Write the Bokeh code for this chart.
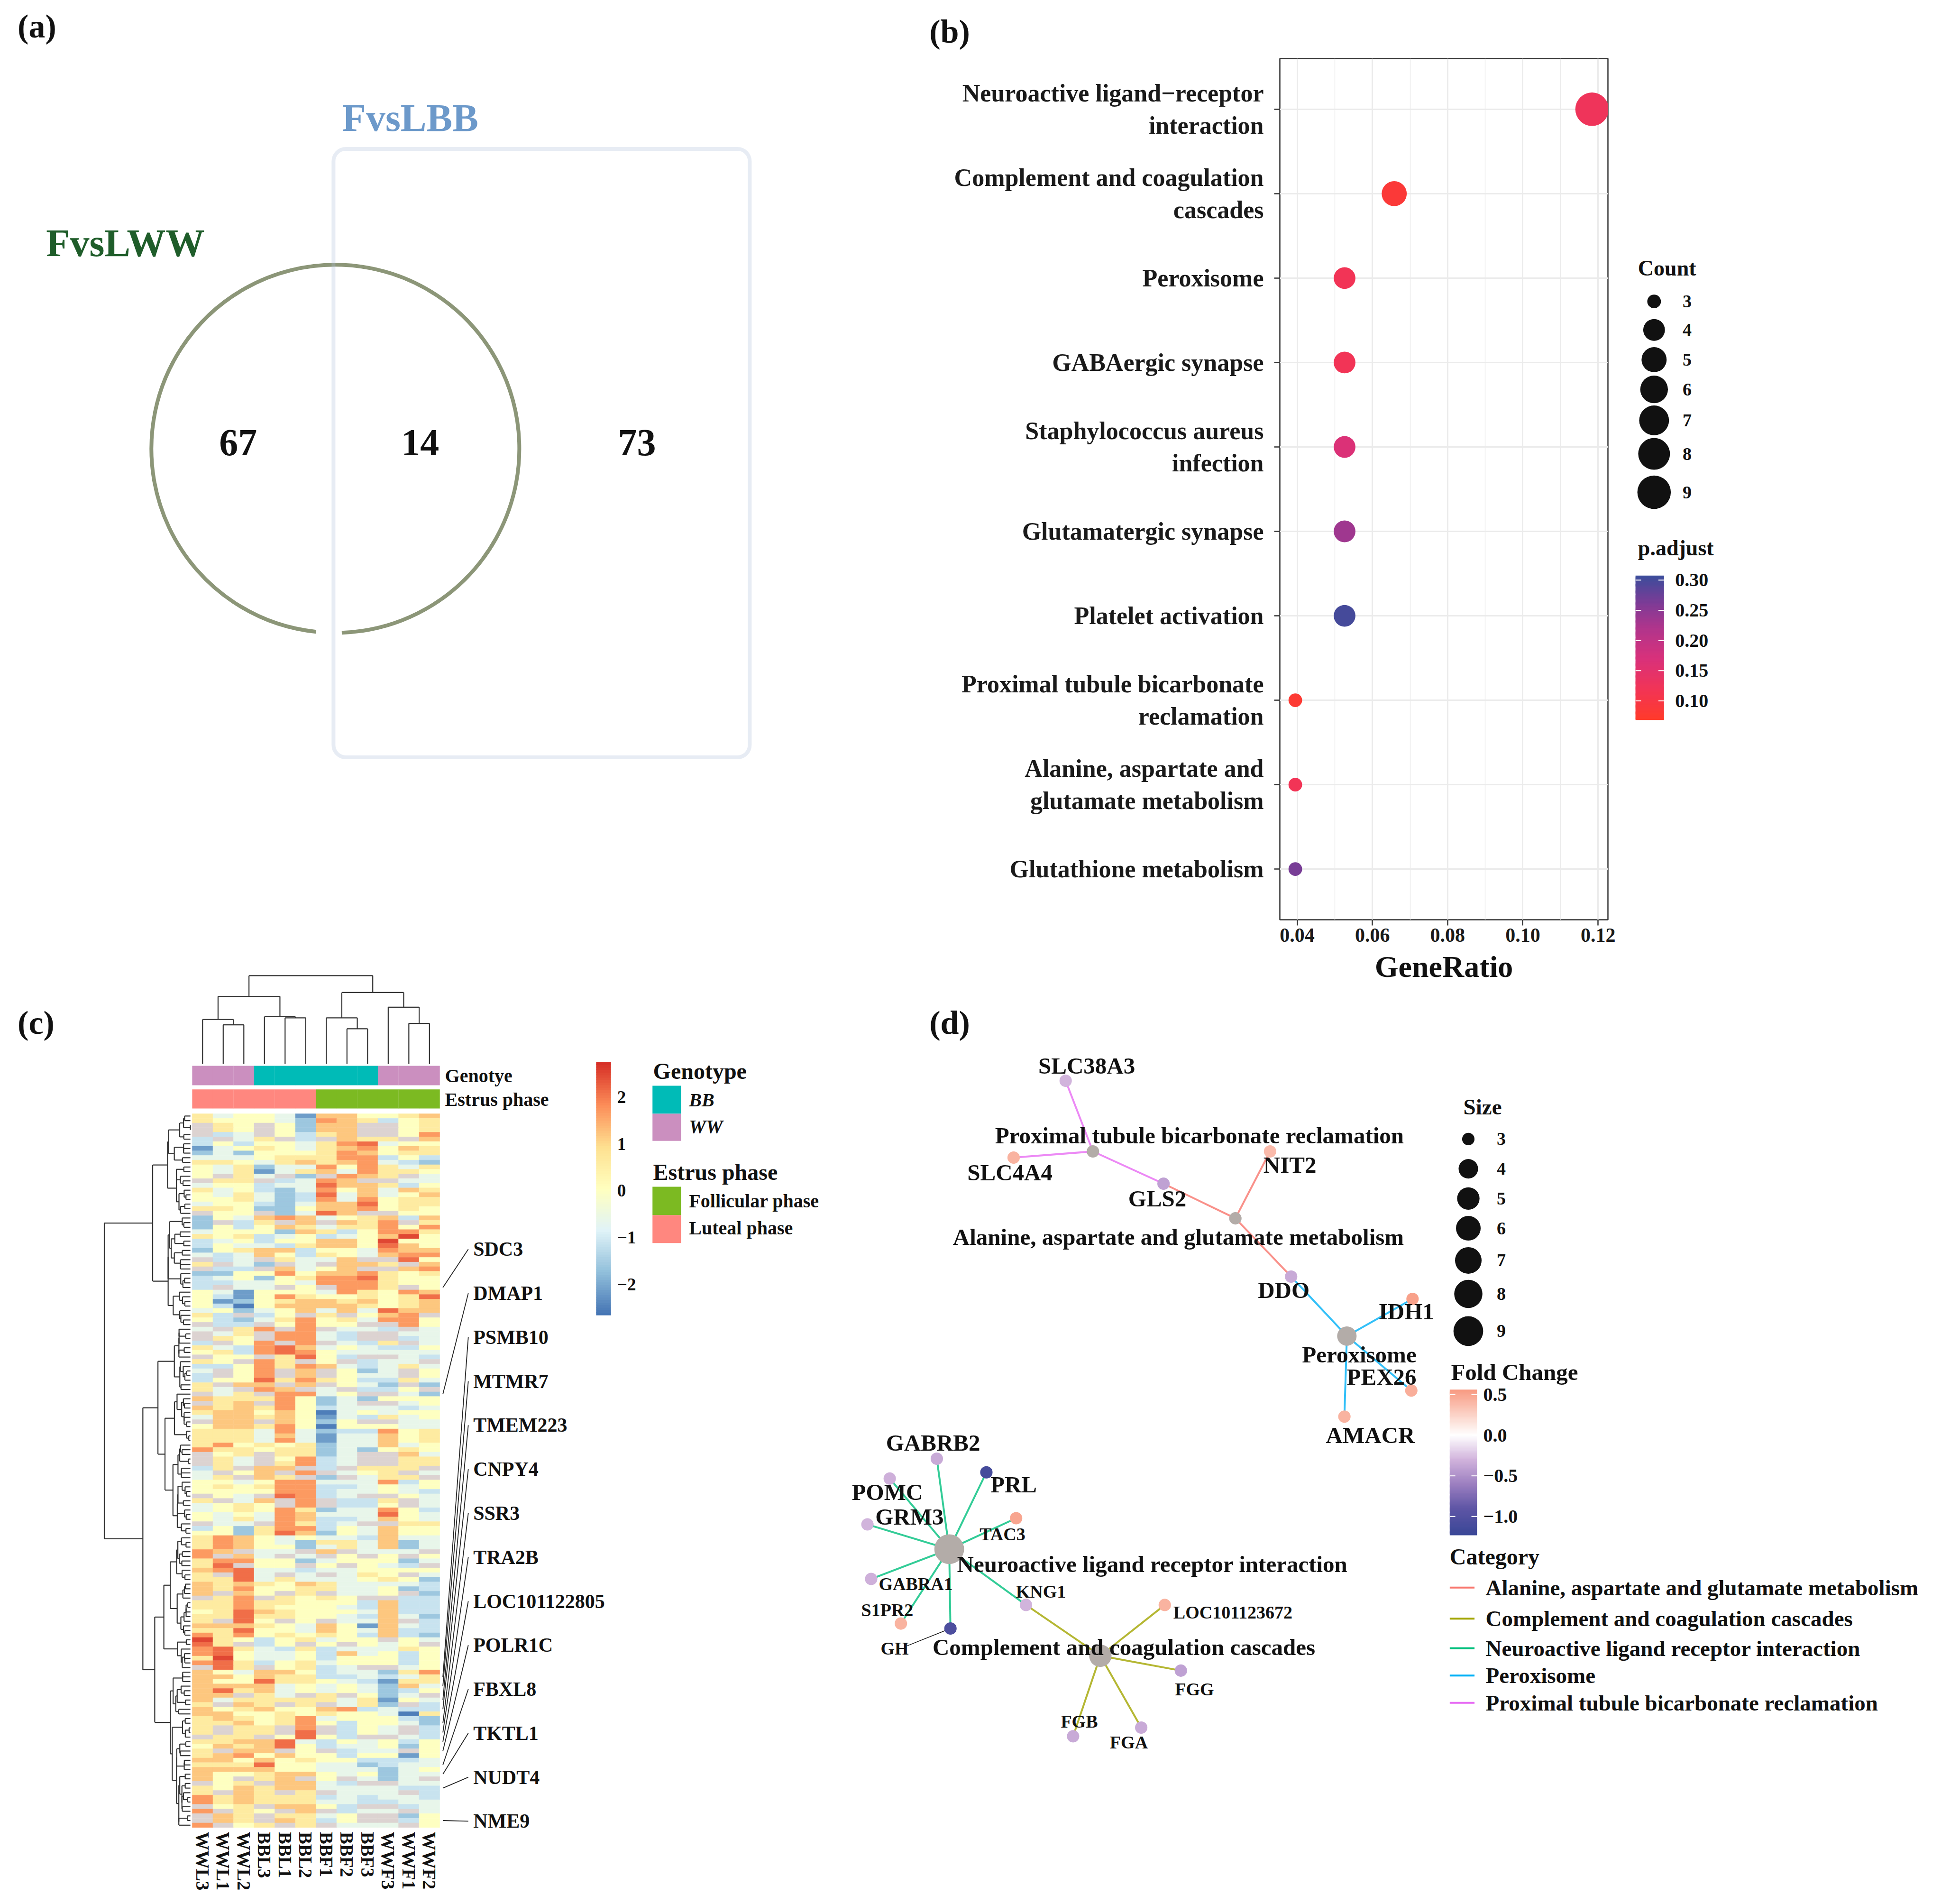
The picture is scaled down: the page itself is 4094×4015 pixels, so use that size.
import numpy as np
from bokeh.plotting import figure
from bokeh.models import (Range1d, FactorRange, FixedTicker, PrintfTickFormatter,
                          LinearColorMapper, BoxAnnotation, ColumnDataSource)
from bokeh.layouts import row, column
from bokeh.transform import transform
from bokeh.core.properties import value
from bokeh.embed import file_html
from bokeh.resources import INLINE

SERIF = "Liberation Serif"
K = 2.613  # canvas pixels per layout unit

# ======================= DATA =======================
# (a) Venn
venn_names = ["FvsLWW", "FvsLBB"]
venn_counts = [67, 14, 73]          # only FvsLWW, shared, only FvsLBB

# (b) KEGG dot plot (top to bottom)
kegg_terms = [
    "Neuroactive ligand\u2212receptor\ninteraction",
    "Complement and coagulation\ncascades",
    "Peroxisome",
    "GABAergic synapse",
    "Staphylococcus aureus\ninfection",
    "Glutamatergic synapse",
    "Platelet activation",
    "Proximal tubule bicarbonate\nreclamation",
    "Alanine, aspartate and\nglutamate metabolism",
    "Glutathione metabolism",
]
kegg_gene_ratio = [0.1184, 0.0658, 0.0526, 0.0526, 0.0526, 0.0526, 0.0526, 0.0395, 0.0395, 0.0395]
kegg_count = [9, 5, 4, 4, 4, 4, 4, 3, 3, 3]
kegg_padj = [0.125, 0.085, 0.12, 0.12, 0.165, 0.235, 0.300, 0.08, 0.12, 0.265]
ratio_ticks = [0.04, 0.06, 0.08, 0.10, 0.12]
count_legend = [3, 4, 5, 6, 7, 8, 9]
padj_ticks = [0.10, 0.15, 0.20, 0.25, 0.30]

# (c) heatmap (z-scores, coded), rows in dendrogram order
samples = ["WWL3", "WWL1", "WWL2", "BBL3", "BBL1", "BBL2",
           "BBF1", "BBF2", "BBF3", "WWF3", "WWF1", "WWF2"]
heat_code = {"a": -2.5, "b": -2.1, "c": -1.6, "d": -1.1, "e": -0.6, "f": 0.0,
             "g": 0.6, "h": 1.2, "i": 1.7, "j": 2.1, "k": 2.5, "x": np.nan}
heat_rows = [
    "geffebhhffgh", "gfffecihgdfg", "xgfxfchhxxfg", "xgfxfchhxxfg", "xdexfdghxxfi",
    "dxegxdxhggxh", "dfdffegijeff", "befgfeghifhg", "cecfffgihfgg", "eeefgggiidfd",
    "ggfeghghiedc", "fegceeifigeg", "fegbegheiggf", "fxgexcxihgxe", "xggxdeihxxee",
    "effdeejhhgdf", "gefdceifhehg", "fegecdjehefh", "ffgecdieifgg", "effdcehhjfgg",
    "ggfccfhhifgf", "xffxcejhxxff", "cfehihefghdh", "cxdgxhxhgixg", "cfdfhgeggifi",
    "efffchgdfiig", "gfgdefdefhkf", "defdffhhfkff", "dfeedghhfjhf", "cfghhdffeihh",
    "edehfdgfehii", "xdexgeehxxjf", "gxecxexhhgxh", "xddxhefhxxhi", "ccffifhhigfg",
    "defcfgiijgff", "ddeefeiiigff", "dxeexfxiigxf", "febfffeigfih", "fdbfigffgfgj",
    "fbcfghhghfgh", "fdafhhhhgfgh", "efcefhehejhh", "gdxdfxgxfhix", "fdcegifgeiif",
    "xddxfiffxxif", "exgixixeedxe", "xegxiiedxxee", "xgfxiiedxxde", "dxfixixedgxe",
    "gedijhefeddf", "fgdijifeeeee", "xffxgjfdxxed", "gfxigxfxdeex", "ddfigihedege",
    "exfixhxfcexf", "dxfixhxfeexf", "dffjgigfddge", "gxhhxhxfecxc", "gexihxexddfx",
    "xegxiiefxxec", "hgggifcecfff", "xghxifcexxef", "hghgifdeeede", "ghhfhfaefeff",
    "ehhghfbedgef", "xhhxhfcfxxee", "fhhgifafffee", "gggeiecddifg", "gggehebeehfg",
    "gggeiebeehfg", "gifgfgceehef", "iggfggcecfgf", "xfgxggcexxhe", "xgexfidexxgg",
    "xgexgidexxgg", "dgxhhxdxgggx", "exfhxixefgxe", "egxhgxcxeggx", "ffefiieeeidf",
    "fgfgiiddefef", "ffffiideefed", "xfexjidexxfe", "gxehxixddgxe", "efgfxixddfxe",
    "efgfigceeifd", "fefeiheeejfe", "fegeihddehfe", "xeexigdexxgg", "dfcgiidfehff",
    "ffcgjhcfehff", "gihfefeedhee", "gihfecggehce", "gihffcegehce", "ihxeexhxeeex",
    "ixhexexfxfxf", "giiffcefffce", "gjxffxfxfedx", "hijeedeeffff", "gxjexexegfxe",
    "ggjegeeefgfc", "hghgfhgeeeed", "hgiffggeefcd", "hxhfxgxeefxc", "xgixgfgfxxdd",
    "ggiggfffdhdd", "ggigfffedhdd", "fgjhgfffehdd", "ggjggffedhec", "gxjfxfxeehxd",
    "hhhgfehfbhed", "ggjffehfehdd", "igifgfgfdhdc", "kgfdfgeffxfe", "jgxdfxfxfefx",
    "ijgedgdeeegf", "ijfeefdhefdf", "gkfeefdfffdf", "ijgdfgefffdf", "xjgxfgdexxef",
    "hfehhfdeecgi", "hhfhggddedeg", "hffjggfedbgg", "hhhhefefeche", "hjghefefecdf",
    "hhxgexgxfcex", "hegggggegbfe", "gxhgxgxegcxd", "hfghffhidedd", "hhffgfgffeag",
    "ghgfgiefffdc", "gghfgifdffec", "gxggxixdfexd", "gxggxjxdfexd", "xggxfjfdxxed",
    "gghhjedfefdf", "fhghjfdeefcf", "gxhhxfxdeexf", "ghifhffdffbf", "hhfhfgffddde",
    "gggjffeecdee", "hhhhffeeecef", "hffghhfefcee", "hfxghxfxecex", "xfgxhhedxxee",
    "gfhghheeeedd", "gxhgxgxeeexd", "ighgggdedeed", "ighgggeeddee", "xfgxhhfdxxde",
    "ixgfxhxdeexe", "xhgxggefxxcf", "xhgxhgdfxxdf", "ixfgxgxeeexf",
]
marked_genes = ["SDC3", "DMAP1", "PSMB10", "MTMR7", "TMEM223", "CNPY4", "SSR3", "TRA2B",
                "LOC101122805", "POLR1C", "FBXL8", "TKTL1", "NUDT4", "NME9"]
marked_rows = [37, 60, 121, 123, 126, 128, 131, 133, 135, 137, 140, 142, 145, 152]
# column tree: (left, right, height); new clusters numbered from 12
col_merges = [(1, 2, 248), (0, 12, 282), (4, 5, 292), (3, 14, 300), (13, 15, 428),
              (7, 8, 223), (6, 17, 292), (10, 11, 257), (9, 19, 360), (18, 20, 453),
              (16, 21, 560)]
heat_ticks = [2, 1, 0, -1, -2]

# (d) gene-concept network
net_categories = ["Alanine, aspartate and glutamate metabolism",
                  "Complement and coagulation cascades",
                  "Neuroactive ligand receptor interaction",
                  "Peroxisome",
                  "Proximal tubule bicarbonate reclamation"]
net_cat_count = [3, 5, 9, 4, 3]
net_members = {
    "Alanine, aspartate and glutamate metabolism": ["GLS2", "NIT2", "DDO"],
    "Complement and coagulation cascades": ["KNG1", "LOC101123672", "FGG", "FGB", "FGA"],
    "Neuroactive ligand receptor interaction": ["GABRB2", "PRL", "POMC", "GRM3", "TAC3",
                                                "GABRA1", "S1PR2", "GH", "KNG1"],
    "Peroxisome": ["DDO", "IDH1", "PEX26", "AMACR"],
    "Proximal tubule bicarbonate reclamation": ["SLC38A3", "SLC4A4", "GLS2"],
}
net_genes = ["SLC38A3", "SLC4A4", "GLS2", "NIT2", "DDO", "IDH1", "PEX26", "AMACR",
             "GABRB2", "PRL", "POMC", "GRM3", "TAC3", "GABRA1", "S1PR2", "GH", "KNG1",
             "LOC101123672", "FGG", "FGB", "FGA"]
net_fc = [-0.30, 0.42, -0.40, 0.38, -0.35, 0.52, 0.45, 0.42,
          -0.35, -1.12, -0.32, -0.30, 0.50, -0.32, 0.42, -1.05, -0.30,
          0.42, -0.40, -0.35, -0.35]
fc_ticks = [0.5, 0.0, -0.5, -1.0]
size_legend = [3, 4, 5, 6, 7, 8, 9]

# ======================= LAYOUT (layout units) =======================
venn_circle = (270.5, 362.0, 148.5)
venn_box = (269, 605, 120, 611)
venn_num_xy = [(192, 357), (339, 357), (514, 357)]
venn_name_xy = [(101, 196), (331, 95)]
venn_name_colors = ["#1F5D2A", "#6C99CA"]

HX0, HX1, HY0, HY1 = 155.0, 354.8, 898.6, 1474.6
DX0, DX1 = 84.0, 153.5
CY0, CY1 = 787.2, 858.4

node_xy = {
    "Proximal tubule bicarbonate reclamation": (882, 929),
    "Alanine, aspartate and glutamate metabolism": (997, 983),
    "Peroxisome": (1087, 1078),
    "Neuroactive ligand receptor interaction": (766, 1250),
    "Complement and coagulation cascades": (888, 1336),
    "SLC38A3": (860, 872), "SLC4A4": (818, 934), "GLS2": (939, 955), "NIT2": (1025, 929),
    "DDO": (1042, 1030), "IDH1": (1140, 1048), "PEX26": (1139, 1122), "AMACR": (1085, 1143),
    "GABRB2": (756, 1177), "PRL": (796, 1188), "POMC": (718, 1193), "GRM3": (700, 1230),
    "TAC3": (820, 1225), "GABRA1": (703, 1274), "S1PR2": (727, 1310), "GH": (767, 1314),
    "KNG1": (828, 1295), "LOC101123672": (940, 1295), "FGG": (953, 1348), "FGB": (866, 1401),
    "FGA": (921, 1394),
}
label_xy = {
    "Proximal tubule bicarbonate reclamation": (968, 916, 49),
    "Alanine, aspartate and glutamate metabolism": (951, 998, 49),
    "Peroxisome": (1097, 1093, 49),
    "Neuroactive ligand receptor interaction": (930, 1262, 49),
    "Complement and coagulation cascades": (907, 1329, 49),
    "SLC38A3": (877, 860, 49), "SLC4A4": (815, 946, 49), "GLS2": (934, 967, 49),
    "NIT2": (1041, 940, 49), "DDO": (1036, 1041, 49), "IDH1": (1135, 1058, 49),
    "PEX26": (1115, 1111, 49), "AMACR": (1106, 1158, 49),
    "GABRB2": (753, 1164, 49), "PRL": (818, 1198, 49), "POMC": (716, 1204, 49),
    "GRM3": (734, 1224, 49), "TAC3": (809, 1238, 38), "GABRA1": (739, 1278, 38),
    "S1PR2": (716, 1299, 38), "GH": (722, 1330, 38), "KNG1": (840, 1284, 38),
    "LOC101123672": (995, 1301, 38), "FGG": (964, 1363, 38), "FGB": (871, 1389, 38),
    "FGA": (911, 1406, 38),
}
cat_colors = ["#F8766D", "#A3A500", "#00BF7D", "#00B0F6", "#E76BF3"]


# ======================= helpers =======================
def ramp(colors, n, pos=None):
    rgb = np.array([[int(c[i:i + 2], 16) for i in (1, 3, 5)] for c in colors], float)
    pos = np.linspace(0, 1, len(colors)) if pos is None else np.asarray(pos, float)
    t = np.linspace(0, 1, n)
    out = np.stack([np.interp(t, pos, rgb[:, k]) for k in range(3)], axis=1)
    return ["#%02x%02x%02x" % tuple(int(round(v)) for v in r) for r in out]


def canvas(w, h, x0, x1, y0, y1, top=0, bottom=0):
    p = figure(width=w, height=h, x_range=Range1d(x0, x1), y_range=Range1d(y0, y1),
               output_backend="svg", toolbar_location=None, min_border=0,
               min_border_top=top, min_border_bottom=bottom,
               x_axis_location=None, y_axis_location=None)
    p.grid.visible = False
    p.outline_line_color = None
    p.background_fill_color = "white"
    p.border_fill_color = "white"
    return p


def put_text(p, xs, ys, texts, size, align="left", baseline="middle", color="#111111",
             style="bold", angle=0.0):
    p.text(x=list(xs), y=list(ys), text=list(texts), text_font=value(SERIF),
           text_font_size=value(f"{size}px"), text_font_style=value(style),
           text_align=value(align), text_baseline=value(baseline),
           text_color=color, angle=angle)


def dot_size(c):
    return K * (11 + 16 * np.sqrt((c - 3) / 6.0))


def node_size(c):
    return K * (10 + 14 * np.sqrt((c - 3) / 6.0))


# ======================= (a) Venn =======================
pa = canvas(1780, 1829, 0, 681.2, 0, 700)
cx, cy, cr = venn_circle
pa.arc(x=[cx], y=[700 - cy], radius=cr, start_angle=np.deg2rad(272), end_angle=np.deg2rad(264),
       direction="anticlock", line_color="#8C9678", line_width=8)
bl, br, bt, bb = venn_box
pa.add_layout(BoxAnnotation(left=bl, right=br, top=700 - bt, bottom=700 - bb, fill_color=None,
                            line_color="#AEC0DC", line_width=8, border_radius=26))
put_text(pa, [x for x, _ in venn_num_xy], [700 - y for _, y in venn_num_xy],
         [str(v) for v in venn_counts], 80, align="center")
for (x, y), name, col in zip(venn_name_xy, venn_names, venn_name_colors):
    put_text(pa, [x], [700 - y], [name], 82, align="center", color=col)
put_text(pa, [14], [700 - 21], ["(a)"], 70)

# ======================= (b) dot plot =======================
padj_lo, padj_hi = 0.07, 0.306
padj_palette = ramp(["#FF3B2B", "#F23456", "#D9317A", "#B0358C", "#7E3B96", "#3D4C9B"], 256,
                    pos=[0, 0.21, 0.42, 0.64, 0.81, 1.0])
padj_mapper = LinearColorMapper(palette=padj_palette, low=padj_lo, high=padj_hi)

B_TOP, B_BOT = 123, 164
pb = figure(width=1631, height=2103, x_range=Range1d(0.03539, 0.12263),
            y_range=FactorRange(factors=kegg_terms[::-1], range_padding=0.1,
                                range_padding_units="absolute"),
            output_backend="svg", toolbar_location=None,
            min_border_left=919, min_border_right=20, min_border_top=B_TOP, min_border_bottom=B_BOT)
pb.background_fill_color = "white"
pb.outline_line_color = "#333333"
pb.outline_line_width = 2.5
pb.title.text = "(b)"
pb.title.align = "left"
pb.title.offset = -(919 - (750 - 681.2) * K)
pb.title.text_font = SERIF
pb.title.text_font_style = "bold"
pb.title.text_font_size = "70px"
pb.title.text_color = "#111111"
pb.title.standoff = 38
pb.xaxis.ticker = FixedTicker(ticks=ratio_ticks, minor_ticks=[0.05, 0.07, 0.09, 0.11])
pb.xaxis.formatter = PrintfTickFormatter(format="%.2f")
for ax in (pb.xaxis, pb.yaxis):
    ax.axis_line_color = None
    ax.major_tick_line_color = "#333333"
    ax.major_tick_line_width = 2.5
    ax.major_tick_in = 0
    ax.major_tick_out = 12
    ax.minor_tick_line_color = None
    ax.major_label_text_font = SERIF
    ax.major_label_text_font_style = "bold"
    ax.major_label_text_color = "#1A1A1A"
pb.xaxis.major_label_text_font_size = "42px"
pb.yaxis.major_label_text_font_size = "52px"
pb.yaxis.major_label_standoff = 22
pb.xaxis.major_label_standoff = 6
pb.xaxis.axis_label = "GeneRatio"
pb.xaxis.axis_label_text_font = SERIF
pb.xaxis.axis_label_text_font_style = "bold"
pb.xaxis.axis_label_text_font_size = "64px"
pb.xaxis.axis_label_text_color = "#111111"
pb.xaxis.axis_label_standoff = 14
pb.xgrid.grid_line_color = "#EBEBEB"
pb.xgrid.grid_line_width = 3
pb.xgrid.minor_grid_line_color = "#EBEBEB"
pb.xgrid.minor_grid_line_width = 1.5
pb.ygrid.grid_line_color = "#EBEBEB"
pb.ygrid.grid_line_width = 3
src_b = ColumnDataSource(dict(term=kegg_terms, ratio=kegg_gene_ratio, padj=kegg_padj,
                              size=[dot_size(c) for c in kegg_count]))
pb.scatter(x="ratio", y="term", size="size", source=src_b, marker="circle",
           fill_color=transform("padj", padj_mapper), line_color=None)

# legends of (b): same top/bottom borders as the dot plot (frames are aligned in a row)
pbl = canvas(667, 2103, 1305.4, 1560.7, 742.0, 47.0, top=B_TOP, bottom=B_BOT)
put_text(pbl, [1322], [216], ["Count"], 46)
cnt_y = [243, 266, 290, 314, 339, 366, 397]
pbl.scatter(x=[1335] * len(count_legend), y=cnt_y, size=[dot_size(c) for c in count_legend],
            marker="circle", fill_color="#111111", line_color=None)
put_text(pbl, [1358] * len(count_legend), cnt_y, [str(c) for c in count_legend], 38)
put_text(pbl, [1322], [442], ["p.adjust"], 46)
cb_top, cb_bot = 465.0, 580.0
vals = np.linspace(padj_lo, padj_hi, 120)
step = (cb_bot - cb_top) / len(vals)
ys = cb_bot - (vals - padj_lo) / (padj_hi - padj_lo) * (cb_bot - cb_top)
pbl.quad(left=1320, right=1343, top=list(ys - step / 2 - 0.3), bottom=list(ys + step / 2 + 0.3),
         fill_color=[padj_palette[int(i)] for i in np.linspace(0, 255, len(vals))], line_color=None)
ty = [cb_bot - (v - padj_lo) / (padj_hi - padj_lo) * (cb_bot - cb_top) for v in padj_ticks]
pbl.segment(x0=[1320] * 5, y0=ty, x1=[1324.5] * 5, y1=ty, line_color="white", line_width=2)
pbl.segment(x0=[1338.5] * 5, y0=ty, x1=[1343] * 5, y1=ty, line_color="white", line_width=2)
put_text(pbl, [1352] * 5, ty, ["%.2f" % v for v in padj_ticks], 40)

# ======================= (c) heatmap =======================
pc = canvas(1780, 2170, 0, 681.2, 1530.4, 700)
M = np.array([[heat_code[ch] for ch in (r + "ffffffffffff")[:12]] for r in heat_rows], dtype=float)
nrow, ncol = M.shape
CW = (HX1 - HX0) / ncol
RH = (HY1 - HY0) / nrow
heat_palette = ramp(["#4575B4", "#91BFDB", "#E0F3F8", "#FFFFBF", "#FEE090", "#FC8D59", "#D73027"], 100)
heat_lo, heat_hi = -2.63, 2.72
heat_mapper = LinearColorMapper(palette=heat_palette, low=heat_lo, high=heat_hi, nan_color="#DCD3D1")
rr, cc = np.meshgrid(np.arange(nrow), np.arange(ncol), indexing="ij")
src_c = ColumnDataSource(dict(x=HX0 + (cc.ravel() + 0.5) * CW, y=HY0 + (rr.ravel() + 0.5) * RH,
                              v=M.ravel()))
pc.rect(x="x", y="y", width=CW, height=RH, source=src_c,
        fill_color=transform("v", heat_mapper), line_color=transform("v", heat_mapper),
        line_width=0.5)

# row dendrogram: order-preserving Ward-type agglomeration of the rows
X = np.nan_to_num(M, nan=0.0)
clusters = [dict(s=X[i].copy(), n=1, h=0.0, y=i + 0.5) for i in range(nrow)]
rsegs = []
while len(clusters) > 1:
    best = None
    for i in range(len(clusters) - 1):
        a, b = clusters[i], clusters[i + 1]
        d = np.sqrt(2.0 * a["n"] * b["n"] / (a["n"] + b["n"])) * np.linalg.norm(a["s"] / a["n"] - b["s"] / b["n"])
        if best is None or d < best[0]:
            best = (d, i)
    d, i = best
    a, b = clusters[i], clusters[i + 1]
    h = max(d, a["h"], b["h"])
    rsegs += [(a["h"], a["y"], h, a["y"]), (b["h"], b["y"], h, b["y"]), (h, a["y"], h, b["y"])]
    clusters[i:i + 2] = [dict(s=a["s"] + b["s"], n=a["n"] + b["n"], h=h, y=(a["y"] + b["y"]) / 2)]
rs = np.array(rsegs)
hmax = rs[:, [0, 2]].max()
pc.segment(x0=DX1 - rs[:, 0] / hmax * (DX1 - DX0), y0=HY0 + rs[:, 1] * RH,
           x1=DX1 - rs[:, 2] / hmax * (DX1 - DX0), y1=HY0 + rs[:, 3] * RH,
           line_color="#333333", line_width=2.2)

# column dendrogram
cpos = {i: HX0 + (i + 0.5) * CW for i in range(ncol)}
chgt = {i: 0.0 for i in range(ncol)}
csegs = []
for k, (a, b, h) in enumerate(col_merges):
    csegs += [(cpos[a], chgt[a], cpos[a], h), (cpos[b], chgt[b], cpos[b], h), (cpos[a], h, cpos[b], h)]
    cpos[ncol + k] = (cpos[a] + cpos[b]) / 2
    chgt[ncol + k] = h
cs = np.array(csegs)
chmax = max(m[2] for m in col_merges)
pc.segment(x0=cs[:, 0], y0=CY1 - cs[:, 1] / chmax * (CY1 - CY0), x1=cs[:, 2],
           y1=CY1 - cs[:, 3] / chmax * (CY1 - CY0), line_color="#333333", line_width=2.2)

# annotation bars
geno_col = {"BB": "#00BBB7", "WW": "#CB8FBF"}
phase_col = {"F": "#7CBA22", "L": "#FF877F"}
xs = [HX0 + (i + 0.5) * CW for i in range(ncol)]
pc.rect(x=xs, y=[867.8] * ncol, width=CW + 0.1, height=15.6,
        fill_color=[geno_col[s[:2]] for s in samples], line_color=None)
pc.rect(x=xs, y=[886.7] * ncol, width=CW + 0.1, height=15.4,
        fill_color=[phase_col[s[2]] for s in samples], line_color=None)
put_text(pc, [359, 359], [868, 887], ["Genotye", "Estrus phase"], 40)
put_text(pc, xs, [HY1 + 3.5] * ncol, samples, 39, angle=-np.pi / 2)

# marked genes
lab_y = [1008 + 35.5 * i for i in range(len(marked_genes))]
row_y = [HY0 + (r + 0.5) * RH for r in marked_rows]
pc.segment(x0=[HX1 + 2.5] * len(row_y), y0=row_y, x1=[HX1 + 23] * len(row_y), y1=lab_y,
           line_color="#222222", line_width=1.8)
put_text(pc, [HX1 + 27] * len(lab_y), lab_y, marked_genes, 42)

# heat colour bar + legends
hb_top, hb_bot = 858.0, 1060.0
hv = np.linspace(heat_lo, heat_hi, 100)
hstep = (hb_bot - hb_top) / len(hv)
hy = hb_bot - (hv - heat_lo) / (heat_hi - heat_lo) * (hb_bot - hb_top)
pc.quad(left=481, right=493, top=list(hy - hstep / 2 - 0.3), bottom=list(hy + hstep / 2 + 0.3),
        fill_color=heat_palette, line_color=None)
put_text(pc, [498] * 5, [hb_bot - (v - heat_lo) / (heat_hi - heat_lo) * (hb_bot - hb_top) for v in heat_ticks],
         [str(v).replace("-", "\u2212") for v in heat_ticks], 37)
put_text(pc, [527], [864], ["Genotype"], 48)
pc.quad(left=[526.5, 526.5], right=[549.5, 549.5], top=[876, 898.6], bottom=[898.6, 920.5],
        fill_color=[geno_col["BB"], geno_col["WW"]], line_color=None)
put_text(pc, [556, 556], [887.5, 909], ["BB", "WW"], 40, style="bold italic")
put_text(pc, [527], [945.7], ["Estrus phase"], 48)
pc.quad(left=[526.5, 526.5], right=[549.5, 549.5], top=[957.5, 980.5], bottom=[980.5, 1003],
        fill_color=[phase_col["F"], phase_col["L"]], line_color=None)
put_text(pc, [556, 556], [969, 991], ["Follicular phase", "Luteal phase"], 40)
put_text(pc, [14], [825], ["(c)"], 70)

# ======================= (d) network =======================
pdn = canvas(1264, 1896, 681.2, 681.2 + 1264 / K, 804.8 + 1896 / K, 804.8)
fc_lo, fc_hi = -1.22, 0.55
fc_palette = ramp(["#3A4797", "#5E55A5", "#9C7FC0", "#D1B3DC", "#FFFFFF", "#FBD3C8", "#F89C84"], 256,
                  pos=[0, 0.18, 0.35, 0.52, 0.69, 0.83, 1.0])
fc_mapper = LinearColorMapper(palette=fc_palette, low=fc_lo, high=fc_hi)
for cat, col in zip(net_categories, cat_colors):
    cxn, cyn = node_xy[cat]
    gs = net_members[cat]
    pdn.segment(x0=[cxn] * len(gs), y0=[cyn] * len(gs), x1=[node_xy[g][0] for g in gs],
                y1=[node_xy[g][1] for g in gs], line_color=col, line_alpha=0.8, line_width=4)
# ggrepel leader segments
pdn.segment(x0=[label_xy["GH"][0] + 10, node_xy["Neuroactive ligand receptor interaction"][0]],
            y0=[label_xy["GH"][1] - 2, node_xy["Neuroactive ligand receptor interaction"][1]],
            x1=[node_xy["GH"][0], 777], y1=[node_xy["GH"][1], 1258],
            line_color="#111111", line_width=1.6)
pdn.scatter(x=[node_xy[c][0] for c in net_categories], y=[node_xy[c][1] for c in net_categories],
            size=[node_size(n) for n in net_cat_count], marker="circle",
            fill_color="#B3ACA8", line_color=None)
src_d = ColumnDataSource(dict(x=[node_xy[g][0] for g in net_genes], y=[node_xy[g][1] for g in net_genes],
                              fc=net_fc))
pdn.scatter(x="x", y="y", size=K * 10, source=src_d, marker="circle",
            fill_color=transform("fc", fc_mapper), line_color=None)
for name, (lx, ly, fs) in label_xy.items():
    put_text(pdn, [lx], [ly], [name], fs, align="center")
put_text(pdn, [750], [825], ["(d)"], 70)

# legends of (d)
pdl = canvas(1034, 1896, 1164.9, 1164.9 + 1034 / K, 1530.4, 804.8)
put_text(pdl, [1181], [893], ["Size"], 47)
sz_y = [919, 943, 967, 991, 1017, 1044, 1074]
pdl.scatter(x=[1185] * 7, y=sz_y, size=[node_size(c) for c in size_legend], marker="circle",
            fill_color="#111111", line_color=None)
put_text(pdl, [1208] * 7, sz_y, [str(c) for c in size_legend], 38)
put_text(pdl, [1171], [1107], ["Fold Change"], 49)
fb_top, fb_bot = 1122.0, 1238.0
fv = np.linspace(fc_lo, fc_hi, 120)
fstep = (fb_bot - fb_top) / len(fv)
fy = fb_bot - (fv - fc_lo) / (fc_hi - fc_lo) * (fb_bot - fb_top)
pdl.quad(left=1170, right=1192, top=list(fy - fstep / 2 - 0.3), bottom=list(fy + fstep / 2 + 0.3),
         fill_color=[fc_palette[int(i)] for i in np.linspace(0, 255, len(fv))], line_color=None)
fty = [fb_bot - (v - fc_lo) / (fc_hi - fc_lo) * (fb_bot - fb_top) for v in fc_ticks]
pdl.segment(x0=[1170] * 4, y0=fty, x1=[1174.5] * 4, y1=fty, line_color="white", line_width=2)
pdl.segment(x0=[1187.5] * 4, y0=fty, x1=[1192] * 4, y1=fty, line_color="white", line_width=2)
put_text(pdl, [1197] * 4, fty, [("%.1f" % v).replace("-", "\u2212") for v in fc_ticks], 40)
put_text(pdl, [1170], [1256], ["Category"], 48)
cat_y = [1281, 1306, 1330, 1352, 1374]
pdl.segment(x0=[1170] * 5, y0=cat_y, x1=[1190] * 5, y1=cat_y, line_color=cat_colors, line_width=4)
put_text(pdl, [1199] * 5, cat_y, net_categories, 47)

layout = row(column(pa, pc), column(row(pb, pbl), row(pdn, pdl)))
open("out.html", "w").write(file_html(layout, INLINE))
